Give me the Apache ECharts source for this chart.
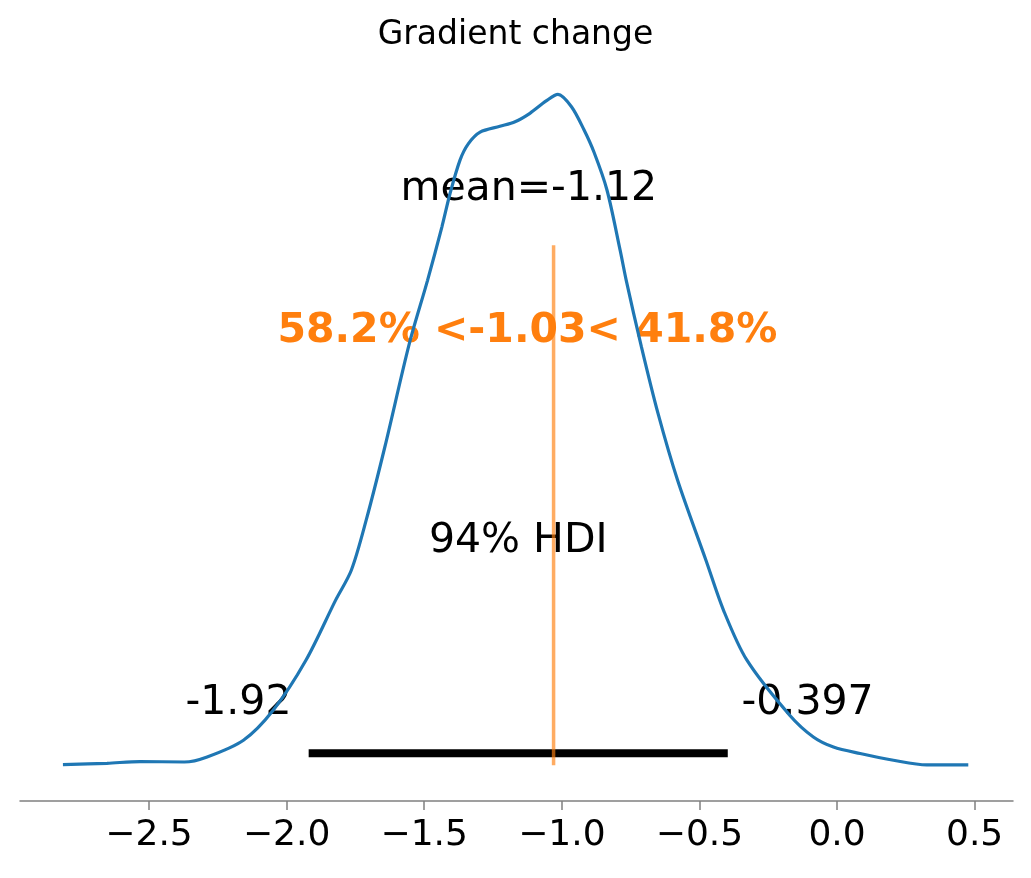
<!DOCTYPE html>
<html>
<head>
<meta charset="utf-8">
<title>Gradient change</title>
<script src="https://cdn.jsdelivr.net/npm/echarts@6/dist/echarts.min.js"></script>
<style>
  html, body { margin: 0; padding: 0; background: #fff; }
  #posteriorPlot { width: 1031px; height: 878px; }
</style>
</head>
<body>
<div id="posteriorPlot"></div>
<script>
// kde of the posterior
const kdeX = [-2.813, -2.653, -2.533, -2.372, -2.289, -2.157, -2.049, -1.930, -1.822,
  -1.765, -1.711, -1.643, -1.554, -1.488, -1.436, -1.406, -1.370, -1.340,
  -1.297, -1.225, -1.170, -1.116, -1.057, -1.014, -0.965, -0.920, -0.883, -0.836,
  -0.788, -0.766, -0.711, -0.651, -0.579, -0.476, -0.412, -0.328, -0.172,
  -0.086, -0.013, 0.084, 0.205, 0.326, 0.477];
const kdeY = [0.001, 0.003, 0.0057, 0.005, 0.0128, 0.0385, 0.0846, 0.1615, 0.254,
  0.30, 0.377, 0.49, 0.649, 0.746, 0.828, 0.88, 0.931, 0.956,
  0.974, 0.983, 0.99, 1.003, 1.022, 1.032, 1.013, 0.978, 0.943, 0.885,
  0.792, 0.746, 0.644, 0.542, 0.438, 0.315, 0.238, 0.162, 0.077,
  0.0435, 0.028, 0.018, 0.0077, 0.0005, 0.0005];

const hdiBounds = [-1.92, -0.397];
const hdiLevel = 0.0185;
const refVal = -1.03;
const refSpan = [0, 0.8];
const meanVal = -1.12;

const tickValues = [-2.5, -2.0, -1.5, -1.0, -0.5, 0.0, 0.5];

// text annotations: x, y, text
const annoX = [meanVal, -1.125, -1.1585, -2.175, -0.107];
const annoY = [0.886, 0.667, 0.344, 0.095, 0.095];
const annoText = ['mean=-1.12', '58.2% <-1.03< 41.8%', '94% HDI', '-1.92', '-0.397'];

const FONT = 'DejaVu Sans';

function fmtTick(v) {
  return (v < 0 ? '\u2212' : '') + Math.abs(v).toFixed(1);
}

var chart = echarts.init(document.getElementById('posteriorPlot'));

var kdeData = kdeX.map(function (x, i) { return [x, kdeY[i]]; });
var annoData = annoX.map(function (x, i) {
  var isRef = i === 1;
  return {
    value: [x, annoY[i]],
    label: {
      formatter: annoText[i],
      color: isRef ? '#ff7f0e' : '#000000',
      fontWeight: isRef ? 'bold' : 'normal'
    }
  };
});

const option = {
  backgroundColor: '#fff',
  animation: false,
  title: {
    text: 'Gradient change',
    left: 'center',
    top: 14,
    textStyle: { fontFamily: FONT, fontSize: 33, fontWeight: 'normal', color: '#000' }
  },
  grid: { left: 20, right: 18, top: 60, bottom: 77 },
  xAxis: {
    type: 'value',
    min: -2.969,
    max: 0.6395,
    splitLine: { show: false },
    axisLine: { onZero: false, lineStyle: { color: '#808080', width: 1.5 } },
    axisTick: { customValues: tickValues, length: 9, lineStyle: { color: '#808080', width: 1.5 } },
    axisLabel: {
      customValues: tickValues,
      formatter: fmtTick,
      fontFamily: FONT, fontSize: 36, color: '#000', margin: 17
    }
  },
  yAxis: {
    type: 'value',
    min: -0.055,
    max: 1.085,
    show: false
  },
  series: [
    {
      name: 'kde',
      type: 'line',
      data: kdeData,
      smooth: 0.3,
      symbol: 'none',
      lineStyle: { color: '#1f77b4', width: 3.2 },
      silent: true
    },
    {
      name: 'hdi',
      type: 'line',
      data: [[hdiBounds[0], hdiLevel], [hdiBounds[1], hdiLevel]],
      symbol: 'none',
      lineStyle: { color: '#000', width: 8 },
      silent: true
    },
    {
      name: 'ref',
      type: 'line',
      data: [[refVal, refSpan[0]], [refVal, refSpan[1]]],
      symbol: 'none',
      lineStyle: { color: 'rgba(255,127,14,0.65)', width: 3.5 },
      silent: true
    },
    {
      name: 'text',
      type: 'scatter',
      data: annoData,
      symbolSize: 0,
      silent: true,
      itemStyle: { opacity: 1 },
      label: {
        show: true,
        position: 'inside',
        opacity: 1,
        fontFamily: FONT,
        fontSize: 41
      }
    }
  ]
};

chart.setOption(option);
</script>
</body>
</html>
